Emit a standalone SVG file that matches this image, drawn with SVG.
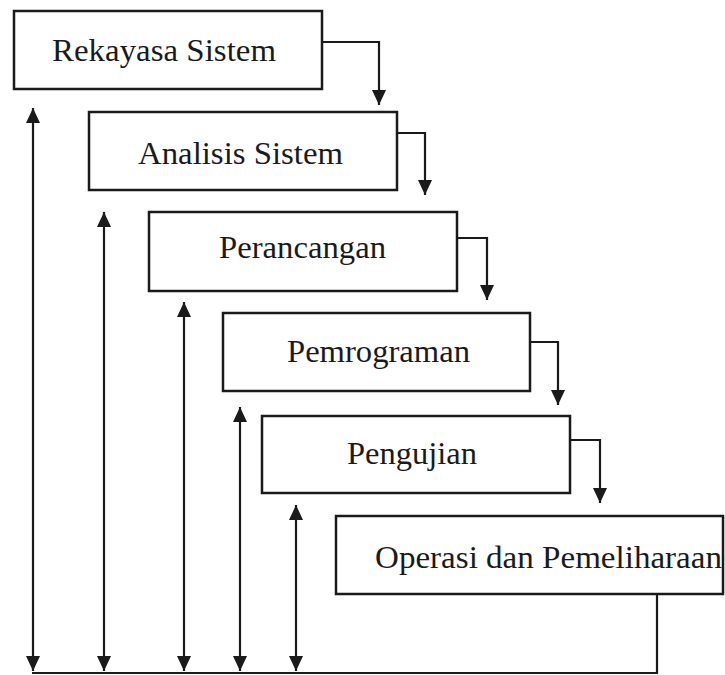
<svg xmlns="http://www.w3.org/2000/svg" width="725" height="675" viewBox="0 0 725 675">
<style>
.box{fill:#fff;stroke:#1a1a1a;stroke-width:2.5}
.lbl{font-family:"Liberation Serif","Times New Roman",serif;font-size:31px;fill:#1a1a1a}
.con{fill:none;stroke:#1a1a1a;stroke-width:2.2}
</style>
<defs>
<marker id="ah" markerUnits="userSpaceOnUse" markerWidth="16" markerHeight="16" viewBox="0 0 16 16" refX="15" refY="8" orient="auto-start-reverse">
<path d="M0,1 L15,8 L0,15 Z" fill="#1a1a1a"/>
</marker>
</defs>
<rect width="725" height="675" fill="#fff"/>
<g id="connectors">
<path class="con" d="M322,42 H379 V105" marker-end="url(#ah)"/>
<path class="con" d="M397,133 H425 V195" marker-end="url(#ah)"/>
<path class="con" d="M457,238 H487 V300" marker-end="url(#ah)"/>
<path class="con" d="M530,342 H558 V405" marker-end="url(#ah)"/>
<path class="con" d="M570,440 H600 V503" marker-end="url(#ah)"/>
<path class="con" d="M657,594 V673 H32"/>
<line class="con" x1="33" y1="108" x2="33" y2="671" marker-start="url(#ah)" marker-end="url(#ah)"/>
<line class="con" x1="104" y1="212" x2="104" y2="671" marker-start="url(#ah)" marker-end="url(#ah)"/>
<line class="con" x1="184" y1="302" x2="184" y2="671" marker-start="url(#ah)" marker-end="url(#ah)"/>
<line class="con" x1="240" y1="407" x2="240" y2="671" marker-start="url(#ah)" marker-end="url(#ah)"/>
<line class="con" x1="296" y1="505" x2="296" y2="671" marker-start="url(#ah)" marker-end="url(#ah)"/>
</g>
<g id="n1"><rect class="box" x="14" y="11" width="308" height="78"/><text class="lbl" x="52" y="61" textLength="224" lengthAdjust="spacingAndGlyphs">Rekayasa Sistem</text></g>
<g id="n2"><rect class="box" x="89" y="112" width="308" height="78"/><text class="lbl" x="138" y="164" textLength="205" lengthAdjust="spacingAndGlyphs">Analisis Sistem</text></g>
<g id="n3"><rect class="box" x="149" y="212" width="308" height="79"/><text class="lbl" x="219" y="258" textLength="167" lengthAdjust="spacingAndGlyphs">Perancangan</text></g>
<g id="n4"><rect class="box" x="223" y="313" width="307" height="78"/><text class="lbl" x="287" y="362" textLength="183" lengthAdjust="spacingAndGlyphs">Pemrograman</text></g>
<g id="n5"><rect class="box" x="262" y="416" width="308" height="77"/><text class="lbl" x="347" y="464" textLength="130" lengthAdjust="spacingAndGlyphs">Pengujian</text></g>
<g id="n6"><rect class="box" x="336" y="516" width="387" height="78"/><text class="lbl" x="375" y="568" textLength="347" lengthAdjust="spacingAndGlyphs">Operasi dan Pemeliharaan</text></g>
</svg>
